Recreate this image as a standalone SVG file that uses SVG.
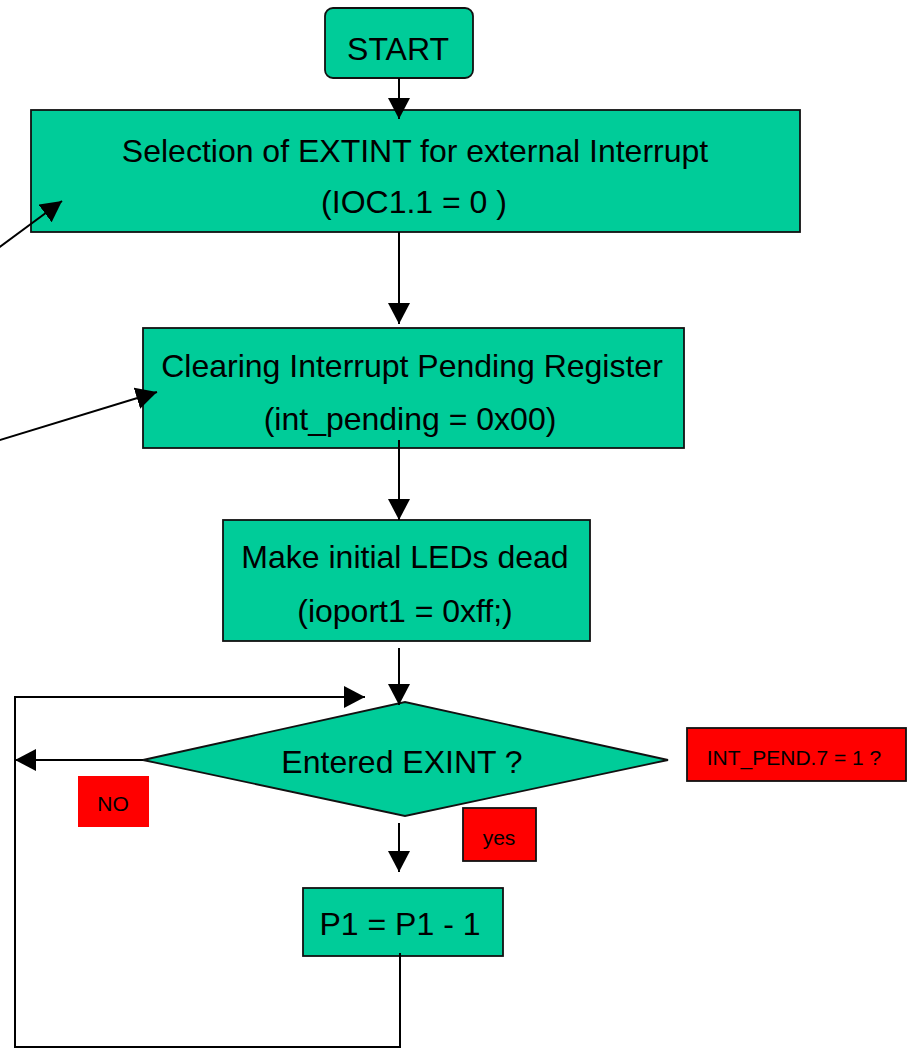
<svg xmlns="http://www.w3.org/2000/svg" width="908" height="1050" viewBox="0 0 908 1050">
<defs>
<style>
.g{fill:#00CC99;stroke:#111;stroke-width:1.8}
.r{fill:#FF0000;stroke:#111;stroke-width:1.8}
.rn{fill:#FF0000;stroke:none}
.t{font-family:"Liberation Sans",Arial,sans-serif;font-size:32px;fill:#000;text-anchor:middle}
.s{font-family:"Liberation Sans",Arial,sans-serif;font-size:21px;fill:#000;text-anchor:middle}
.c{fill:none;stroke:#000;stroke-width:2}
</style>
<marker id="ah" markerUnits="userSpaceOnUse" markerWidth="21" markerHeight="22" viewBox="0 0 21 22" refX="21" refY="11" orient="auto">
<path d="M0,0 L21,11 L0,22 z" fill="#000"/>
</marker>
</defs>
<rect width="908" height="1050" fill="#fff"/>
<g id="start"><rect class="g" x="325" y="8" width="148" height="70" rx="8"/><text class="t" x="398" y="60">START</text></g>
<g id="select"><rect class="g" x="31" y="110" width="769" height="122"/><text class="t" x="415" y="162">Selection of EXTINT for external Interrupt</text><text class="t" x="414" y="213">(IOC1.1 = 0 )</text></g>
<g id="clear"><rect class="g" x="143" y="328" width="541" height="120"/><text class="t" x="412" y="377">Clearing Interrupt Pending Register</text><text class="t" x="410" y="430">(int_pending = 0x00)</text></g>
<g id="leds"><rect class="g" x="223" y="520" width="367" height="121"/><text class="t" x="405" y="568">Make initial LEDs dead</text><text class="t" x="405" y="622">(ioport1 = 0xff;)</text></g>
<g id="decision"><polygon class="g" points="143,760 405,702 668,760 405,816"/><text class="t" x="402" y="773">Entered EXINT ?</text></g>
<g id="dec"><rect class="g" x="303" y="888" width="200" height="68"/><text class="t" x="400" y="935">P1 = P1 - 1</text></g>
<g id="no-label"><rect class="rn" x="78" y="776" width="71" height="51"/><text class="s" x="113" y="811">NO</text></g>
<g id="yes-label"><rect class="r" x="463" y="808" width="73" height="53"/><text class="s" x="499" y="845">yes</text></g>
<g id="cond-label"><rect class="r" x="687" y="728" width="219" height="53"/><text class="s" x="794" y="765">INT_PEND.7 = 1 ?</text></g>
<g id="connectors">
<line class="c" x1="399" y1="78" x2="399" y2="119" marker-end="url(#ah)"/>
<line class="c" x1="399" y1="232" x2="399" y2="324" marker-end="url(#ah)"/>
<line class="c" x1="399" y1="440" x2="399" y2="520" marker-end="url(#ah)"/>
<line class="c" x1="399" y1="648" x2="399" y2="705" marker-end="url(#ah)"/>
<line class="c" x1="399" y1="823" x2="399" y2="872" marker-end="url(#ah)"/>
<line class="c" x1="143" y1="760" x2="15" y2="760" marker-end="url(#ah)"/>
<polyline class="c" points="400,953 400,1047 15,1047 15,697 365,697" marker-end="url(#ah)"/>
<line class="c" x1="-10" y1="254" x2="62" y2="201" marker-end="url(#ah)"/>
<line class="c" x1="-10" y1="443" x2="157" y2="392" marker-end="url(#ah)"/>
</g>
</svg>
